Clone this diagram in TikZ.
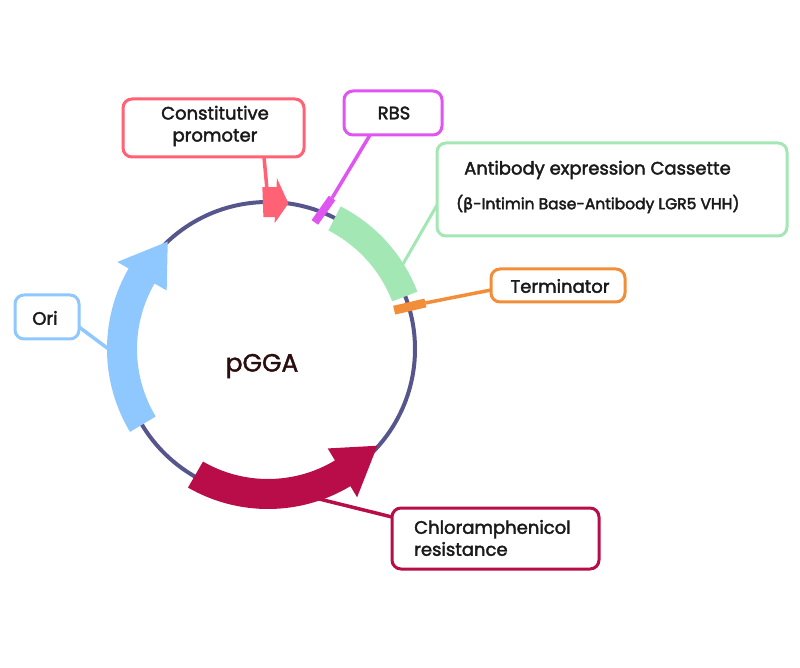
\documentclass[tikz,border=0pt]{standalone}
\usepackage{fontspec}
\setmainfont{Poppins}
\newfontfamily\grfont{DejaVu Sans}
\usetikzlibrary{calc}
\newcommand\medw[1]{\special{pdf:literal direct 2 Tr 0.4 w}#1\special{pdf:literal direct 0 Tr}}
\definecolor{ring}{RGB}{86,86,140}
\definecolor{promc}{RGB}{255,98,117}
\definecolor{rbsc}{RGB}{224,84,242}
\definecolor{abc}{RGB}{163,231,181}
\definecolor{termc}{RGB}{242,142,58}
\definecolor{oric}{RGB}{143,200,255}
\definecolor{cmc}{RGB}{184,13,72}
\definecolor{txt}{RGB}{26,26,26}
\definecolor{titlec}{RGB}{43,13,13}
\begin{document}
\begin{tikzpicture}[x=1pt,y=1pt,
  box/.style={draw, rounded corners=9pt, line width=3pt, fill=white, inner sep=0pt},
  lbl/.style={font=\fontsize{18}{22}\selectfont, text=txt, inner sep=0pt},
  conn/.style={line width=3.5pt}]
\useasboundingbox (0,0) rectangle (800,667);
\coordinate (C) at (268,318);
% backbone
\draw[ring, line width=4pt] (C) circle[radius=147];
% Ori arrow
\fill[oric] ($(C)+(211:161)$) arc[start angle=211, end angle=150, radius=161]
  -- ($(C)+(150:174)$) -- ($(C)+(133:147)$) -- ($(C)+(150:117)$)
  -- ($(C)+(150:131)$) arc[start angle=150, end angle=211, radius=131] -- cycle;
% Chloramphenicol arrow
\fill[cmc] ($(C)+(240:160)$) arc[start angle=240, end angle=301, radius=160]
  -- ($(C)+(301:173)$) -- ($(C)+(318.5:146)$) -- ($(C)+(301:116)$)
  -- ($(C)+(301:130)$) arc[start angle=301, end angle=240, radius=130] -- cycle;
% Antibody cassette
\fill[abc] ($(C)+(63:160)$) arc[start angle=63, end angle=21, radius=160]
  -- ($(C)+(21:133)$) arc[start angle=21, end angle=63, radius=133] -- cycle;
% Promoter arrow
\fill[promc] ($(C)+(92:132)$) arc[start angle=92, end angle=87, radius=132]
  -- ($(C)+(87:126)$) -- ($(C)+(82:147)$) -- ($(C)+(87:171)$)
  -- ($(C)+(87:162)$) arc[start angle=87, end angle=92, radius=162] -- cycle;

% label boxes (positions)
\path (213.5,539) coordinate (prom);
\path (393,554) coordinate (rbs);
\path (612,477.5) coordinate (ab);
\path (558,381.5) coordinate (term);
\path (47,350) coordinate (ori);
\path (495.5,128.5) coordinate (cm);

% anchor points
\coordinate (promP) at ($(C)+(90.4:161)$);
\coordinate (promB) at ($(prom)+(50.5,-29)$);
\coordinate (rbsIn) at ($(C)+(69.7:135)$);
\coordinate (rbsOut) at ($(C)+(67:164)$);
\coordinate (rbsB) at ($(rbs)+(-23,-22)$);
\coordinate (abP) at ($(C)+(31.7:157)$);
\coordinate (abB) at ($(ab)+(-175,-15.5)$);
\coordinate (termIn) at ($(C)+(17.1:132)$);
\coordinate (termOut) at ($(C)+(16.3:164)$);
\coordinate (termB) at ($(term)+(-67,-4.5)$);
\coordinate (oriP) at ($(C)+(180.4:158)$);
\coordinate (oriB) at ($(ori)+(32,-10)$);
\coordinate (cmP) at ($(C)+(288:157)$);
\coordinate (cmB) at ($(cm)+(-103.5,21.5)$);

% connectors
\draw[conn, promc] (promB) -- (promP);
\draw[conn, rbsc] (rbsOut) -- (rbsB);
\draw[rbsc, line width=8pt] (rbsIn) -- (rbsOut);
\draw[conn, abc, line width=3pt] (abP) -- (abB);
\draw[conn, termc] (termOut) -- (termB);
\draw[termc, line width=9pt] (termIn) -- (termOut);
\draw[conn, oric] (oriP) -- (oriB);
\draw[conn, cmc] (cmP) -- (cmB);

% boxes on top of connectors
\node[box, draw=promc, minimum width=181pt, minimum height=58pt] (promBox) at (prom) {};
\node[box, draw=rbsc, minimum width=98pt, minimum height=44pt] (rbsBox) at (rbs) {};
\node[box, draw=abc, minimum width=350pt, minimum height=93pt] (abBox) at (ab) {};
\node[box, draw=termc, minimum width=134pt, minimum height=33pt] (termBox) at (term) {};
\node[box, draw=oric, minimum width=64pt, minimum height=44pt] (oriBox) at (ori) {};
\node[box, draw=cmc, minimum width=207pt, minimum height=61pt] (cmBox) at (cm) {};

% texts
\node[lbl, align=center] (promT) at (215,541) {\medw{Constitutive}\\\medw{promoter}};
\node[lbl] (rbsT) at (394,554) {\medw{RBS}};
\node[lbl, anchor=west] (abT1) at (464,497) {\medw{Antibody expression Cassette}};
\node[lbl, anchor=west, font=\fontsize{15.5}{18}\selectfont] (abT2) at (456,463) {\medw{({\grfont β}-Intimin Base-Antibody LGR5 VHH)}};
\node[lbl] (termT) at (560,381) {\medw{Terminator}};
\node[lbl] (oriT) at (45,349) {\medw{Ori}};
\node[lbl, align=left, anchor=west] (cmT) at (414,129) {\medw{Chloramphenicol}\\\medw{resistance}};
\node[font=\fontsize{25}{30}\selectfont, text=titlec, inner sep=0pt] (title) at (262,301) {\medw{pGGA}};
\end{tikzpicture}
\end{document}
